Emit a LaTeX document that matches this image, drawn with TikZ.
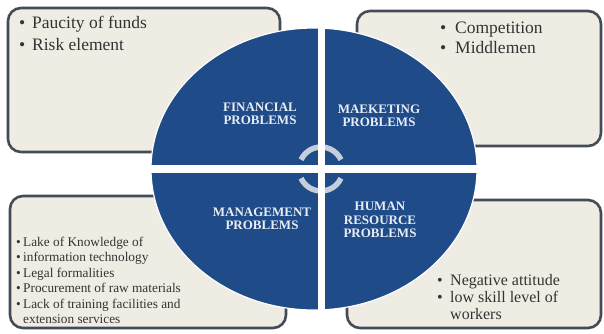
\documentclass[tikz,border=0pt]{standalone}
\usepackage{fontspec}
\setmainfont{Liberation Serif}
\definecolor{qblue}{HTML}{1F4B89}
\definecolor{boxfill}{HTML}{EFECE4}
\definecolor{boxline}{HTML}{434B57}
\definecolor{txt}{HTML}{333333}
\definecolor{lbl}{HTML}{E8EDF5}
\definecolor{arcc}{HTML}{C5CFDB}
\tikzset{
  infobox/.style={draw=boxline, line width=2.6pt, fill=boxfill, rounded corners=13pt},
  bigitem/.style={anchor=base west, inner sep=0pt, text=txt, font=\fontsize{17.5}{21}\selectfont},
  miditem/.style={anchor=base west, inner sep=0pt, text=txt, font=\fontsize{16}{18}\selectfont},
  smallitem/.style={anchor=base west, inner sep=0pt, text=txt, font=\fontsize{13.3}{15}\selectfont},
  quadlabel/.style={align=center, inner sep=0pt, text=lbl, font=\fontsize{13}{13.5}\selectfont\bfseries},
  cyclearc/.style={draw=arcc, line width=5.5pt}
}
\begin{document}
\begin{tikzpicture}[x=1pt,y=-1pt]
\useasboundingbox (0,0) rectangle (604,333);
\fill[white] (0,0) rectangle (604,333);
% boxes
\draw[infobox] (8,8) rectangle (280,152);
\draw[infobox] (357,11) rectangle (601,146);
\draw[infobox] (10,196) rectangle (286,328);
\draw[infobox] (347,200) rectangle (601,328);
% texts
\node[bigitem] (f1) at (19,28) {\makebox[13pt][l]{•}Paucity of funds};
\node[bigitem] (f2) at (19,50) {\makebox[13pt][l]{•}Risk element};
\node[bigitem] (m1) at (440,33) {\makebox[15pt][l]{•}Competition};
\node[bigitem] (m2) at (440,53) {\makebox[15pt][l]{•}Middlemen};
\node[smallitem] (g1) at (16,246) {\makebox[7pt][l]{•}Lake of Knowledge of};
\node[smallitem] (g2) at (16,261.5) {\makebox[7pt][l]{•}information technology};
\node[smallitem] (g3) at (16,277) {\makebox[7pt][l]{•}Legal formalities};
\node[smallitem] (g4) at (16,292.5) {\makebox[7pt][l]{•}Procurement of raw materials};
\node[smallitem] (g5) at (16,308) {\makebox[7pt][l]{•}Lack of training facilities and};
\node[smallitem] (g6) at (23,323.5) {extension services};
\node[miditem] (h1) at (437,285) {\makebox[13pt][l]{•}Negative attitude};
\node[miditem] (h2) at (437,302) {\makebox[13pt][l]{•}low skill level of};
\node[miditem] (h3) at (450,319) {workers};
% ellipse
\fill[qblue] (314,169) ellipse [x radius=163, y radius=141];
\draw[white, line width=1.2pt] (314,169) ellipse [x radius=163, y radius=141];
% cycle arcs
\draw[cyclearc] (321,169) ++(205:22) arc[start angle=205, end angle=335, radius=22];
\draw[cyclearc] (321,169) ++(25:22) arc[start angle=25, end angle=155, radius=22];
% gaps
\begin{scope}
\clip (314,169) ellipse [x radius=164, y radius=142];
\fill[white] (140,164.5) rectangle (490,172.5);
\fill[white] (318,20) rectangle (325,320);
\end{scope}
% labels
\node[quadlabel] (fin) at (260,114) {FINANCIAL\\PROBLEMS};
\node[quadlabel] (mkt) at (379,116) {MAEKETING\\PROBLEMS};
\node[quadlabel] (mgt) at (262,219) {MANAGEMENT\\PROBLEMS};
\node[quadlabel] (hr) at (380,220) {HUMAN\\RESOURCE\\PROBLEMS};
\end{tikzpicture}
\end{document}
